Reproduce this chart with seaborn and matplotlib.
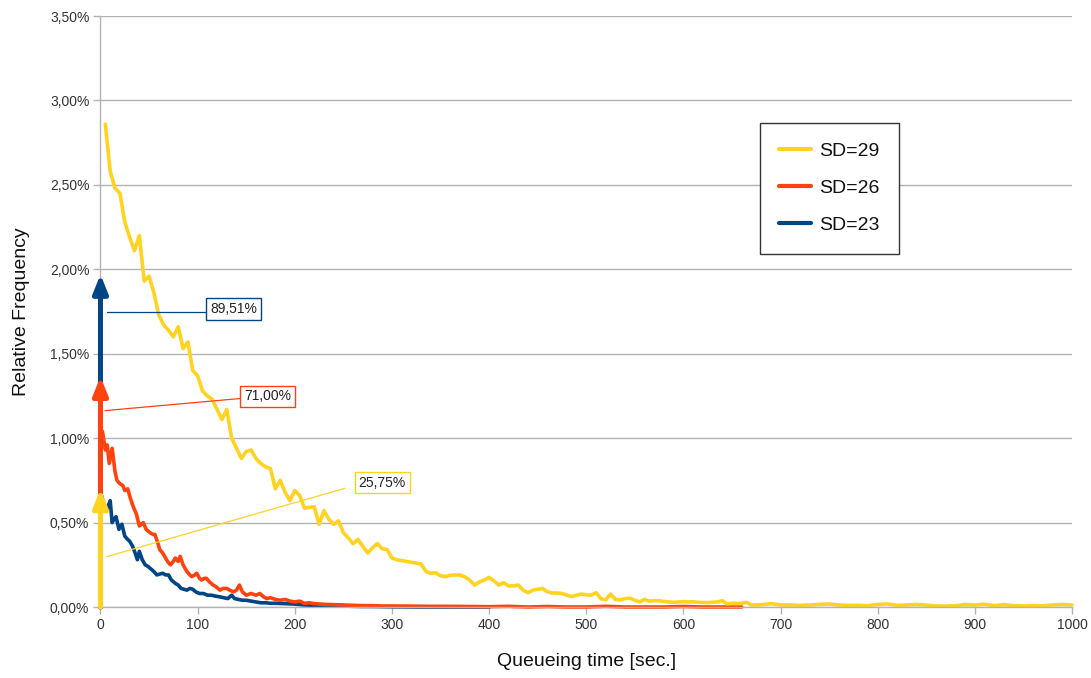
import matplotlib
matplotlib.use("Agg")
import matplotlib.pyplot as plt
from matplotlib.ticker import FuncFormatter
from matplotlib.lines import Line2D
import seaborn as sns
import pandas as pd

# ---------------- data (relative frequency in %) ----------------
series_labels = ["SD=29", "SD=26", "SD=23"]
series_colors = ["#FFD320", "#FF420E", "#004586"]

# probability mass at zero queueing time (arrows) and arrow heights
zero_mass_labels = ["25,75%", "71,00%", "89,51%"]
arrow_tops = [0.70, 1.365, 1.97]

sd29_x = [5, 10, 15, 20, 25, 30, 35, 40, 45, 50, 55, 60, 65, 70, 75, 80, 85, 90, 95, 100,
          105, 110, 115, 120, 125, 130, 135, 140, 145, 150, 155, 160, 165, 170, 175, 180, 185, 190, 195, 200,
          205, 210, 215, 220, 225, 230, 235, 240, 245, 250, 255, 260, 265, 270, 275, 280, 285, 290, 295, 300,
          305, 310, 315, 320, 325, 330, 335, 340, 345, 350, 355, 360, 365, 370, 375, 380, 385, 390, 395, 400,
          405, 410, 415, 420, 425, 430, 435, 440, 445, 450, 455, 460, 465, 470, 475, 480, 485, 490, 495, 500,
          505, 510, 515, 520, 525, 530, 535, 540, 545, 550, 555, 560, 565, 570, 575, 580, 585, 590, 595, 600,
          605, 610, 615, 620, 625, 630, 635, 640, 645, 650, 655, 660, 665, 670, 680, 690, 700,
          710, 720, 730, 740, 750, 760, 770, 780, 790, 800, 810, 820, 830, 840, 850, 860, 870, 880, 890, 900,
          910, 920, 930, 940, 950, 960, 970, 980, 990, 1000]
sd29_y = [2.86, 2.58, 2.48, 2.45, 2.28, 2.19, 2.11, 2.20, 1.93, 1.96, 1.86, 1.73, 1.67, 1.64, 1.60, 1.66, 1.53, 1.57, 1.40, 1.37,
          1.28, 1.25, 1.23, 1.17, 1.11, 1.17, 1.00, 0.94, 0.88, 0.92, 0.93, 0.88, 0.85, 0.83, 0.82, 0.70, 0.75, 0.68, 0.63, 0.69,
          0.66, 0.585, 0.59, 0.594, 0.49, 0.57, 0.52, 0.49, 0.51, 0.44, 0.41, 0.375, 0.40, 0.36, 0.32, 0.35, 0.375, 0.345, 0.34, 0.29,
          0.28, 0.275, 0.27, 0.265, 0.26, 0.255, 0.21, 0.20, 0.203, 0.185, 0.18, 0.188, 0.19, 0.19, 0.178, 0.16, 0.13, 0.148, 0.16, 0.175,
          0.155, 0.13, 0.144, 0.125, 0.125, 0.13, 0.10, 0.085, 0.10, 0.105, 0.11, 0.09, 0.083, 0.083, 0.08, 0.07, 0.062, 0.07, 0.077, 0.072,
          0.07, 0.085, 0.05, 0.042, 0.077, 0.045, 0.042, 0.05, 0.052, 0.04, 0.03, 0.045, 0.035, 0.037, 0.037, 0.033, 0.03, 0.028, 0.03, 0.032,
          0.03, 0.031, 0.028, 0.027, 0.026, 0.028, 0.03, 0.037, 0.018, 0.022, 0.021, 0.022, 0.028, 0.012, 0.013, 0.02, 0.012,
          0.012, 0.01, 0.012, 0.015, 0.018, 0.012, 0.01, 0.01, 0.008, 0.015, 0.018, 0.01, 0.012, 0.015, 0.012, 0.006, 0.005, 0.008, 0.015, 0.012,
          0.016, 0.008, 0.014, 0.008, 0.006, 0.008, 0.007, 0.012, 0.015, 0.012]

sd26_x = [2, 5, 7, 9, 12, 15, 17, 20, 23, 25, 28, 31, 34, 37, 40, 44, 47, 51, 54, 56, 59, 61, 64, 66, 69,
          72, 75, 77, 80, 82, 85, 89, 92, 94, 97, 99, 102, 104, 107, 109, 112, 116, 119, 123, 126, 130, 133,
          137, 140, 143, 146, 150, 155, 160, 164, 168, 171, 175, 180, 185, 190, 195, 200, 205, 210, 215, 220,
          225, 230, 240, 250, 260, 270, 280, 290, 300, 320, 340, 360, 380, 400, 420, 440, 460, 480, 500, 520,
          540, 560, 580, 600, 620, 640, 660]
sd26_y = [1.04, 0.93, 0.96, 0.85, 0.94, 0.80, 0.75, 0.73, 0.72, 0.69, 0.70, 0.64, 0.59, 0.55, 0.48, 0.50, 0.46, 0.44, 0.43, 0.43, 0.38, 0.34, 0.32, 0.30, 0.27,
          0.25, 0.27, 0.29, 0.27, 0.30, 0.25, 0.21, 0.19, 0.18, 0.19, 0.20, 0.17, 0.16, 0.17, 0.17, 0.15, 0.13, 0.12, 0.10, 0.11, 0.11, 0.10,
          0.09, 0.10, 0.13, 0.09, 0.07, 0.08, 0.07, 0.08, 0.06, 0.05, 0.055, 0.045, 0.04, 0.045, 0.035, 0.03, 0.035, 0.022, 0.025, 0.02,
          0.018, 0.016, 0.014, 0.012, 0.01, 0.008, 0.008, 0.006, 0.006, 0.005, 0.004, 0.004, 0.003, 0.002, 0.004, 0.0, 0.003, 0.0, 0.0, 0.004,
          0.0, 0.0, 0.0, 0.003, 0.0, 0.0, 0.0]

sd23_x = [1, 3, 6, 8, 10, 12, 14, 16, 19, 22, 25, 28, 30, 33, 35, 38, 40, 43, 46, 49, 51, 55, 58, 61, 64, 67,
          70, 73, 77, 80, 83, 86, 89, 92, 95, 98, 102, 106, 110, 114, 118, 123, 127, 131, 135, 138, 142, 146,
          150, 155, 160, 165, 170, 175, 181, 190, 198, 210, 220, 230, 240, 250, 260, 270, 280, 290, 300, 330,
          360, 400]
sd23_y = [0.66, 0.62, 0.57, 0.60, 0.63, 0.50, 0.52, 0.535, 0.46, 0.49, 0.42, 0.40, 0.39, 0.36, 0.33, 0.28, 0.33, 0.28, 0.25, 0.24, 0.23, 0.21, 0.19, 0.195, 0.20, 0.19,
          0.19, 0.16, 0.14, 0.13, 0.11, 0.105, 0.10, 0.11, 0.105, 0.09, 0.08, 0.08, 0.07, 0.07, 0.065, 0.06, 0.055, 0.05, 0.07, 0.05, 0.045, 0.04,
          0.04, 0.035, 0.03, 0.025, 0.025, 0.022, 0.022, 0.02, 0.018, 0.012, 0.01, 0.008, 0.006, 0.006, 0.004, 0.003, 0.003, 0.002, 0.001, 0.0,
          0.0, 0.0]

x_ticks = [0, 100, 200, 300, 400, 500, 600, 700, 800, 900, 1000]
y_ticks = [0.0, 0.5, 1.0, 1.5, 2.0, 2.5, 3.0, 3.5]

# ---------------- figure ----------------
sns.set_theme(style="white")
plt.rcParams["font.family"] = ["Liberation Sans", "DejaVu Sans"]

fig = plt.figure(figsize=(10.91, 6.78), dpi=100)
ax = fig.add_axes([0.0921, 0.1047, 0.9826 - 0.0921, 0.9764 - 0.1047])

frames = []
for lab, xs, ys in [("SD=23", sd23_x, sd23_y), ("SD=26", sd26_x, sd26_y), ("SD=29", sd29_x, sd29_y)]:
    frames.append(pd.DataFrame({"t": xs, "f": ys, "series": lab}))
df = pd.concat(frames, ignore_index=True)

palette = dict(zip(series_labels, series_colors))
sns.lineplot(data=df, x="t", y="f", hue="series", hue_order=["SD=23", "SD=26", "SD=29"],
             palette=palette, linewidth=2.6, ax=ax, legend=False, estimator=None, sort=False)
for ln in ax.get_lines():
    ln.set_clip_on(False)
    ln.set_solid_joinstyle("round")

# arrows for probability mass at t = 0 (blue first, yellow on top)
for lab, top in sorted(zip(series_labels, arrow_tops), key=lambda p: -p[1]):
    ax.annotate("", xy=(0, top), xytext=(0, 0),
                arrowprops=dict(arrowstyle="-|>,head_length=1.0,head_width=0.4",
                                color=palette[lab], lw=3.6, mutation_scale=11,
                                shrinkA=0, shrinkB=0),
                annotation_clip=False, zorder=5)

# callout labels
callouts = [("SD=23", "89,51%", (6.5, 1.745), (137, 1.767), (108.5, 1.745)),
            ("SD=26", "71,00%", (4.6, 1.163), (172, 1.247), (146.0, 1.236)),
            ("SD=29", "25,75%", (6.4, 0.298), (290, 0.737), (251.5, 0.703))]
for lab, text, start, center, end in callouts:
    ax.plot([start[0], end[0]], [start[1], end[1]], color=palette[lab], lw=0.9, zorder=4)
    ax.text(center[0], center[1], text, ha="center", va="center", fontsize=10, color="#222222",
            bbox=dict(boxstyle="square,pad=0.28", fc="white", ec=palette[lab], lw=1.0), zorder=6)

ax.set_xlim(0, 1000)
ax.set_ylim(0, 3.5)
ax.set_xticks(x_ticks)
ax.set_yticks(y_ticks)
ax.yaxis.set_major_formatter(FuncFormatter(lambda v, p: f"{v:.2f}%".replace(".", ",")))
ax.tick_params(axis="both", which="major", length=5, width=1, color="#b3b3b3",
               labelsize=10, labelcolor="#333333", direction="out", bottom=True, left=True, pad=3)
ax.grid(axis="y", color="#b3b3b3", lw=1)
ax.grid(axis="x", visible=False)
for s in ["top", "right"]:
    ax.spines[s].set_visible(False)
for s in ["left", "bottom"]:
    ax.spines[s].set_color("#b3b3b3")
    ax.spines[s].set_linewidth(1)

ax.set_xlabel("Queueing time [sec.]", fontsize=14, color="#111111", labelpad=15)
ax.set_ylabel("Relative Frequency", fontsize=14, color="#111111", labelpad=14)

handles = [Line2D([0], [0], color=palette[l], lw=3) for l in series_labels]
leg = ax.legend(handles, series_labels, loc="upper left", bbox_to_anchor=(760 / 1091, 1 - 123 / 678),
                bbox_transform=fig.transFigure, borderaxespad=0, fontsize=14, frameon=True,
                fancybox=False, framealpha=1, edgecolor="#333333", handlelength=1.6,
                handletextpad=0.45, labelspacing=1.0, borderpad=1.0)
leg.get_frame().set_linewidth(1.0)
for t in leg.get_texts():
    t.set_color("#111111")

fig.savefig("out.png", dpi=100, facecolor="white")
